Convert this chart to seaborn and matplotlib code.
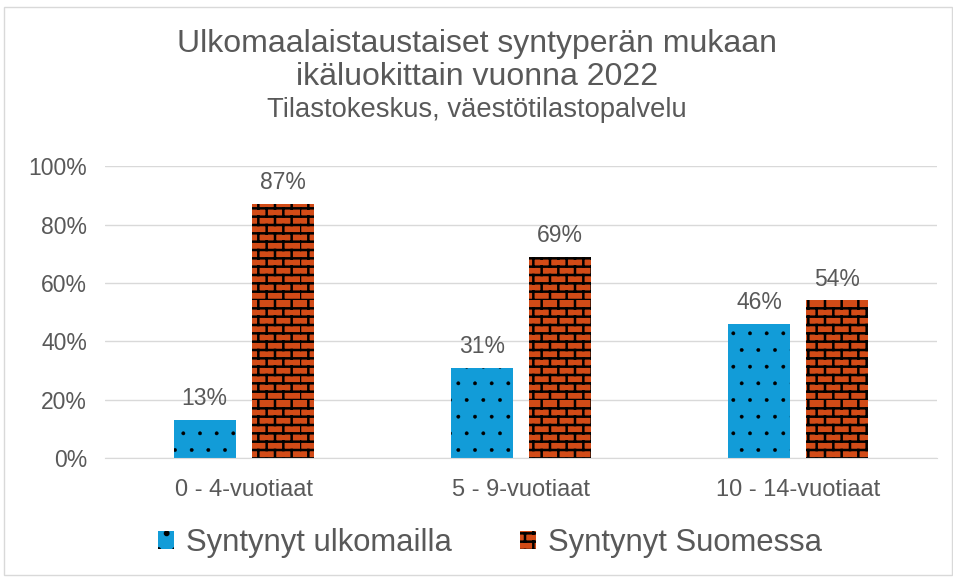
import warnings
import numpy as np
import matplotlib
matplotlib.use('Agg')
import matplotlib.pyplot as plt
import seaborn as sns
import pandas as pd
from matplotlib import hatch as mhatch
from matplotlib.path import Path
from matplotlib.patches import Rectangle

warnings.filterwarnings('ignore')

categories = ['0 - 4-vuotiaat', '5 - 9-vuotiaat', '10 - 14-vuotiaat']
series = ['Syntynyt ulkomailla', 'Syntynyt Suomessa']
abroad = [0.13, 0.31, 0.46]
finland = [0.87, 0.69, 0.54]
yticks = [0, 0.2, 0.4, 0.6, 0.8, 1.0]

df = pd.DataFrame({
    'ika': categories * 2,
    'ryhma': [series[0]] * 3 + [series[1]] * 3,
    'osuus': abroad + finland,
})


# tiilikuvio ('b') omana hatch-tyyppinä
class BrickHatch(mhatch.HatchPatternBase):
    def __init__(self, hatch, density):
        self.cols = int(hatch.count('b') * density)
        self.rows = self.cols * 2
        self.num_vertices = (self.rows + self.rows * self.cols) * 2

    def set_vertices_and_codes(self, vertices, codes):
        i = 0
        for r in range(self.rows):
            y0 = r / self.rows
            vertices[i] = [0, y0]
            vertices[i + 1] = [1, y0]
            codes[i] = Path.MOVETO
            codes[i + 1] = Path.LINETO
            i += 2
            off = 0.5 / self.cols if r % 2 else 0
            for c in range(self.cols):
                x0 = c / self.cols + off
                vertices[i] = [x0, y0]
                vertices[i + 1] = [x0, y0 + 1 / self.rows]
                codes[i] = Path.MOVETO
                codes[i + 1] = Path.LINETO
                i += 2


mhatch._hatch_types.append(BrickHatch)

sns.set_style('white')
plt.rcParams['font.family'] = ['Liberation Sans', 'DejaVu Sans']
plt.rcParams['hatch.color'] = 'black'
plt.rcParams['hatch.linewidth'] = 1.8

grey = '#595959'
palette = {series[0]: '#129CD8', series[1]: '#D24B17'}
hatches = {series[0]: '.', series[1]: 'b'}
hatch_lw = {series[0]: 0.3, series[1]: 1.8}

fig = plt.figure(figsize=(9.54, 5.77), dpi=100)
ax = fig.add_axes([0.110, 0.206, 0.872, 0.506])

sns.barplot(data=df, x='ika', y='osuus', hue='ryhma', order=categories,
            hue_order=series, palette=palette, width=0.563, gap=0.205,
            saturation=1, legend=False, ax=ax)

for cont, name in zip(ax.containers, series):
    for bar in cont:
        bar.set_hatch(hatches[name])
        bar.set_edgecolor('black')
        bar.set_linewidth(0)
        if hasattr(bar, 'set_hatch_linewidth'):
            bar.set_hatch_linewidth(hatch_lw[name])
    ax.bar_label(cont, labels=[f'{v.get_height():.0%}' for v in cont],
                 padding=7, fontsize=16.5, color=grey)

ax.set_ylim(0, 1.0)
ax.set_xlim(-0.5, 2.5)
ax.set_yticks(yticks)
ax.set_yticklabels([f'{t:.0%}' for t in yticks])
ax.yaxis.grid(True, color='#D9D9D9', linewidth=1)
ax.set_axisbelow(True)
for s in ['top', 'right', 'left']:
    ax.spines[s].set_visible(False)
ax.spines['bottom'].set_color('#D9D9D9')
ax.tick_params(axis='both', length=0, labelsize=16.5, labelcolor=grey)
ax.tick_params(axis='x', labelsize=17, pad=15)
ax.tick_params(axis='y', pad=13)
ax.set_xlabel('')
ax.set_ylabel('')

fig.text(0.5, 0.895, 'Ulkomaalaistaustaiset syntyperän mukaan\nikäluokittain vuonna 2022',
         ha='center', va='center', fontsize=23, color=grey, linespacing=1.15)
fig.text(0.5, 0.81, 'Tilastokeskus, väestötilastopalvelu',
         ha='center', va='center', fontsize=19.7, color=grey)

handles = []
for s in series:
    h = Rectangle((0, 0), 1, 1, facecolor=palette[s], hatch=hatches[s],
                  edgecolor='black', linewidth=0)
    if hasattr(h, 'set_hatch_linewidth'):
        h.set_hatch_linewidth(hatch_lw[s])
    handles.append(h)
fig.legend(handles, series, loc='center', bbox_to_anchor=(0.514, 0.059), ncol=2,
           frameon=False, fontsize=22.3, labelcolor=grey, handlelength=0.5,
           handleheight=0.5, handletextpad=0.4, columnspacing=2.2)

fig.patches.append(Rectangle((0.004, 0.003), 0.994, 0.985, transform=fig.transFigure,
                             fill=False, edgecolor='#D9D9D9', linewidth=1))

fig.savefig('out.png', dpi=100)
